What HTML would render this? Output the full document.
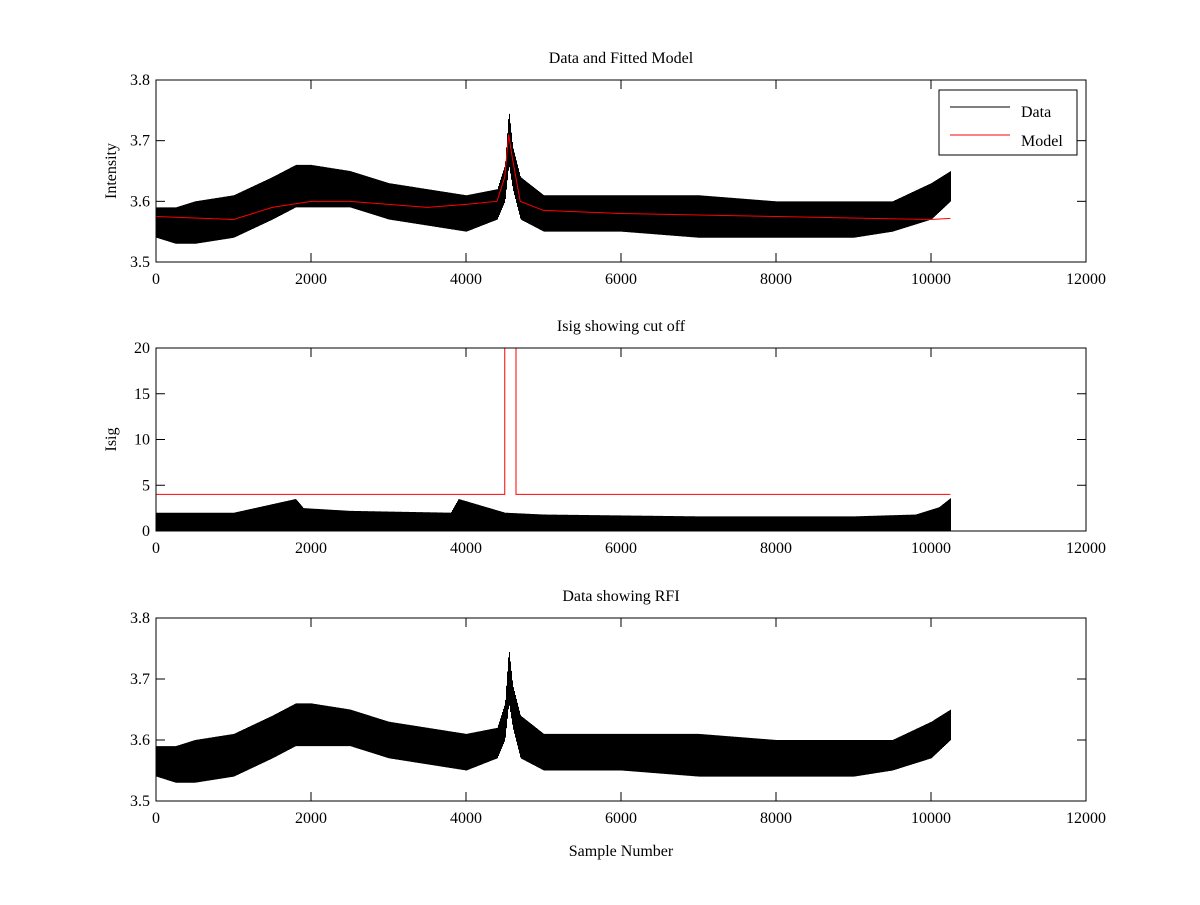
<!DOCTYPE html>
<html><head><meta charset="utf-8"><style>
body{margin:0;background:#fff;width:1200px;height:900px;overflow:hidden}
svg text{font-family:"Liberation Serif",serif;font-size:16px;fill:#000}
</style></head><body>
<svg id="fig" width="1200" height="900" xmlns="http://www.w3.org/2000/svg"></svg>
<script>
// ---- data ----
const xTicks=[0,2000,4000,6000,8000,10000,12000];
const intTicks=[3.5,3.6,3.7,3.8];
const isigTicks=[0,5,10,15,20];
const envX=[0,250,500,1000,1500,1800,2000,2500,3000,3500,4000,4400,4500,4550,4600,4700,5000,6000,7000,8000,9000,9500,10000,10250];
const dataLo=[3.54,3.53,3.53,3.54,3.57,3.59,3.59,3.59,3.57,3.56,3.55,3.57,3.6,3.66,3.62,3.57,3.55,3.55,3.54,3.54,3.54,3.55,3.57,3.6];
const dataHi=[3.59,3.59,3.6,3.61,3.64,3.66,3.66,3.65,3.63,3.62,3.61,3.62,3.66,3.75,3.69,3.64,3.61,3.61,3.61,3.6,3.6,3.6,3.63,3.65];
const modelX=[0,1000,1500,2000,2500,3000,3500,4000,4400,4500,4550,4600,4700,5000,6000,8000,10000,10250];
const modelY=[3.575,3.57,3.59,3.6,3.6,3.595,3.59,3.595,3.6,3.64,3.71,3.67,3.6,3.585,3.58,3.575,3.57,3.572];
const isigX=[0,1000,1800,1900,2500,3800,3900,4500,5000,7000,9000,9800,10100,10250];
const isigHi=[2.0,2.0,3.5,2.5,2.2,2.0,3.5,2.0,1.8,1.6,1.6,1.8,2.6,3.6];
const cutX=[0,4500,4500,4645,4645,10250];
const cutY=[4,4,20,20,4,4];
// ----
const S=document.getElementById('fig');const NS='http://www.w3.org/2000/svg';
function el(t,a,p){const e=document.createElementNS(NS,t);for(const k in a)e.setAttribute(k,a[k]);(p||S).appendChild(e);return e;}
const X0=156,X1=1086;const sx=v=>X0+(v/12000)*(X1-X0);
function interp(xs,ys,x){for(let i=1;i<xs.length;i++){if(x<=xs[i]){const t=(x-xs[i-1])/(xs[i]-xs[i-1]||1);return ys[i-1]+t*(ys[i]-ys[i-1]);}}return ys[ys.length-1];}
function axes(name,top,bot,ymin,ymax,yt,title,ylab){
 const g=el('g',{});
 const sy=v=>bot-(v-ymin)/(ymax-ymin)*(bot-top);
 el('rect',{x:X0,y:top,width:X1-X0,height:bot-top,fill:'#fff',stroke:'none'},g);
 return {g,sy,finish(){
  el('rect',{x:X0,y:top,width:X1-X0,height:bot-top,fill:'none',stroke:'#000','stroke-width':1},g);
  xTicks.forEach(v=>{const x=sx(v);el('line',{x1:x,x2:x,y1:bot,y2:bot-9,stroke:'#000'},g);el('line',{x1:x,x2:x,y1:top,y2:top+9,stroke:'#000'},g);
   const t=el('text',{x:x,y:bot+22,'text-anchor':'middle'},g);t.textContent=v;});
  yt.forEach(v=>{const y=sy(v);el('line',{x1:X0,x2:X0+9,y1:y,y2:y,stroke:'#000'},g);el('line',{x1:X1,x2:X1-9,y1:y,y2:y,stroke:'#000'},g);
   const t=el('text',{x:X0-6,y:y+5,'text-anchor':'end'},g);t.textContent=v.toString().length==1&&ymax<10?v.toFixed(1):v;});
  const tt=el('text',{x:621,y:top-17,'text-anchor':'middle'},g);tt.textContent=title;
  if(ylab){const yl=el('text',{x:0,y:0,'text-anchor':'middle',transform:`translate(${X0-40},${(top+bot)/2}) rotate(-90)`},g);yl.textContent=ylab;}
 }};
}
function band(a,xs,lo,hi,name){let d='';for(let px=Math.ceil(sx(0));px<=sx(xs[xs.length-1]);px++){const v=(px-X0)/(X1-X0)*12000;d+=`M${px+.5},${a.sy(interp(xs,lo,v))}V${a.sy(interp(xs,hi,v))}`;}
 const p=el('path',{d,stroke:'#000','stroke-width':1,fill:'none'},a.g);}
function line(a,xs,ys,col,name){const p=el('polyline',{points:xs.map((x,i)=>sx(x)+','+a.sy(ys[i])).join(' '),stroke:col,fill:'none','stroke-width':1},a.g);}
// panel 1
const a1=axes('panel-data-model',80,262,3.5,3.8,intTicks,'Data and Fitted Model','Intensity');
band(a1,envX,dataLo,dataHi,'data-series');line(a1,modelX,modelY,'#f00','model-series');a1.finish();
const lg=el('g',{});
el('rect',{x:939,y:90,width:138,height:65,fill:'#fff',stroke:'#000'},lg);
el('line',{x1:950,x2:1010,y1:107,y2:107,stroke:'#000'},lg);el('line',{x1:950,x2:1010,y1:135,y2:135,stroke:'#f00'},lg);
let t=el('text',{x:1021,y:117},lg);t.textContent='Data';t=el('text',{x:1021,y:146},lg);t.textContent='Model';
// panel 2
const a2=axes('panel-isig',348,531,0,20,isigTicks,'Isig showing cut off','Isig');
band(a2,isigX,isigX.map(()=>0),isigHi,'isig-series');line(a2,cutX,cutY,'#f00','cutoff-line');a2.finish();
// panel 3
const a3=axes('panel-rfi',618,801,3.5,3.8,intTicks,'Data showing RFI',null);
band(a3,envX,dataLo,dataHi,'rfi-data-series');a3.finish();
const xl=el('text',{x:621,y:856,'text-anchor':'middle'});xl.textContent='Sample Number';

</script>
</body></html>
